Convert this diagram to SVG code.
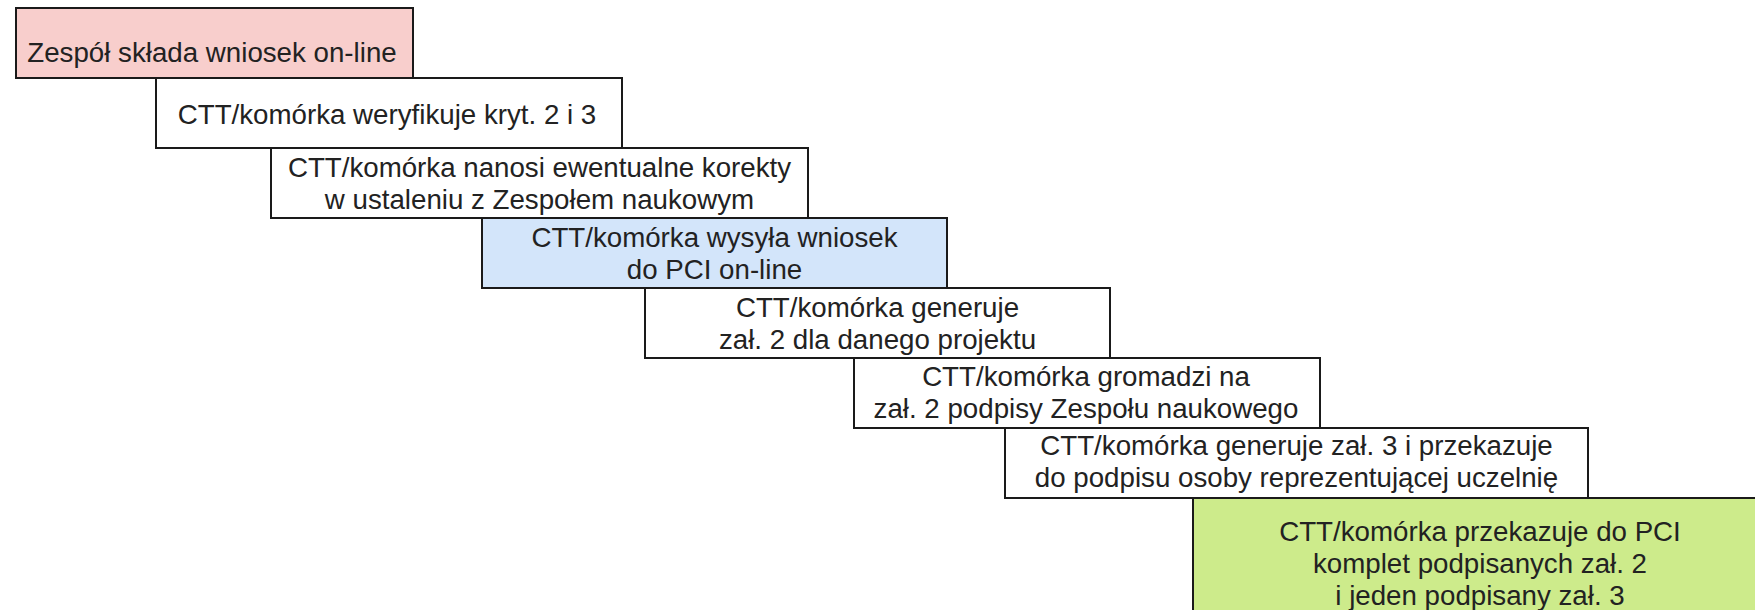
<svg xmlns="http://www.w3.org/2000/svg" width="1755" height="610" viewBox="0 0 1755 610">
<style>
.box{stroke:#1a1a1a;stroke-width:2;}
.w{fill:#ffffff;}
.pink{fill:#f8cecc;}
.blue{fill:#d3e5fa;}
.green{fill:#cdeb8b;}
text{font-family:"Liberation Sans",Arial,sans-serif;font-size:27.7px;fill:#222;text-anchor:middle;}
</style>
<rect width="1755" height="610" fill="#ffffff"/>
<g id="connectors"></g>
<g id="node1">
<rect class="box pink" x="16" y="8" width="397" height="70"/>
<text x="212" y="62">Zespół składa wniosek on-line</text>
</g>
<g id="node2">
<rect class="box w" x="156" y="78" width="466" height="70"/>
<text x="387" y="124">CTT/komórka weryfikuje kryt. 2 i 3</text>
</g>
<g id="node3">
<rect class="box w" x="271" y="148" width="537" height="70"/>
<text x="539.5" y="177">CTT/komórka nanosi ewentualne korekty</text>
<text x="539.5" y="209">w ustaleniu z Zespołem naukowym</text>
</g>
<g id="node4">
<rect class="box blue" x="482" y="218" width="465" height="70"/>
<text x="714.5" y="247">CTT/komórka wysyła wniosek</text>
<text x="714.5" y="279">do PCI on-line</text>
</g>
<g id="node5">
<rect class="box w" x="645" y="288" width="465" height="70"/>
<text x="877.5" y="317">CTT/komórka generuje</text>
<text x="877.5" y="349">zał. 2 dla danego projektu</text>
</g>
<g id="node6">
<rect class="box w" x="854" y="358" width="466" height="70"/>
<text x="1086" y="386">CTT/komórka gromadzi na</text>
<text x="1086" y="418">zał. 2 podpisy Zespołu naukowego</text>
</g>
<g id="node7">
<rect class="box w" x="1005" y="428" width="583" height="70"/>
<text x="1296.5" y="455">CTT/komórka generuje zał. 3 i przekazuje</text>
<text x="1296.5" y="487">do podpisu osoby reprezentującej uczelnię</text>
</g>
<g id="node8">
<rect class="box green" x="1193" y="498" width="574" height="130"/>
<text x="1480" y="541">CTT/komórka przekazuje do PCI</text>
<text x="1480" y="573">komplet podpisanych zał. 2</text>
<text x="1480" y="605">i jeden podpisany zał. 3</text>
</g>
</svg>
